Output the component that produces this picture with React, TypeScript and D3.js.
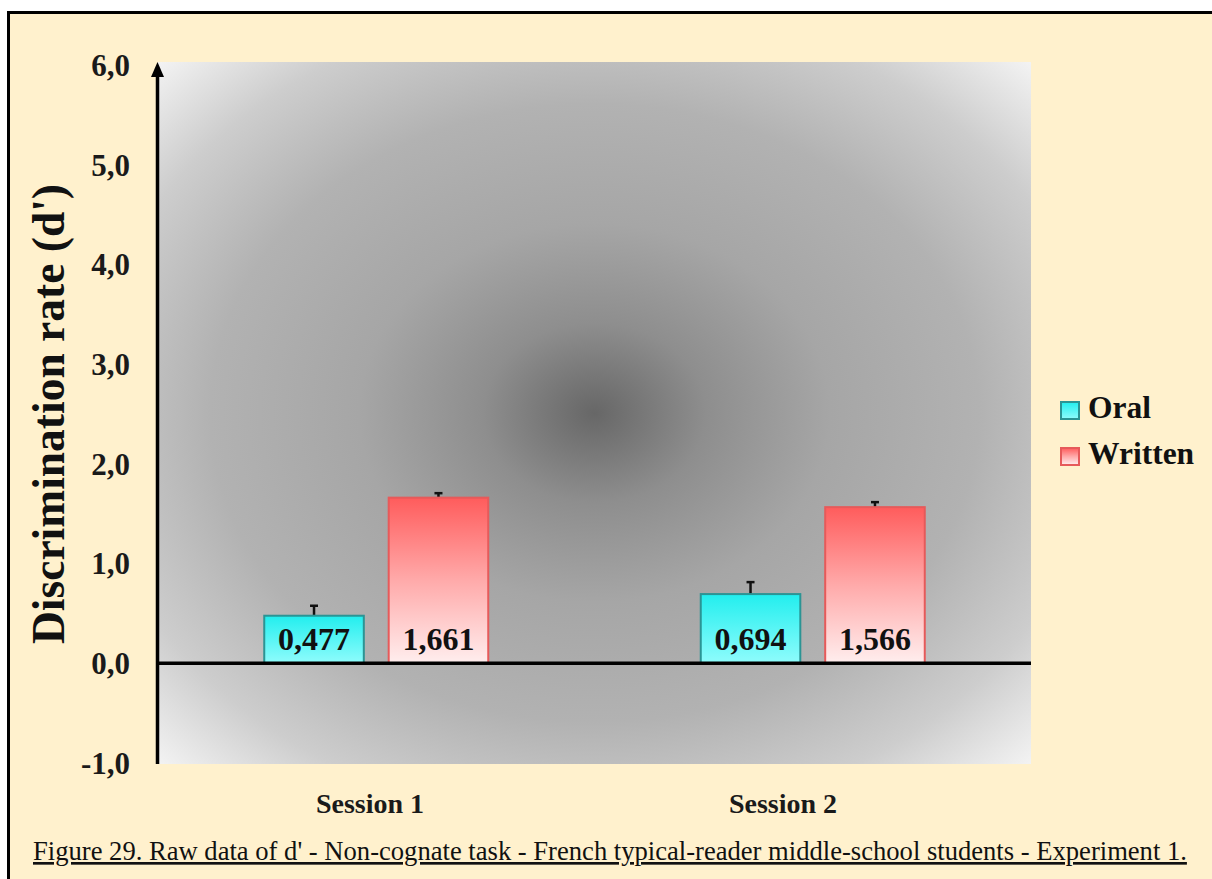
import React from "react";
import * as d3 from "d3";

const sessions = ["Session 1", "Session 2"];
const seriesNames = ["Oral", "Written"];
const oralValues = [0.477, 0.694];
const writtenValues = [1.661, 1.566];
const oralErrors = [0.1, 0.12];
const writtenErrors = [0.045, 0.05];
const yTicks = [-1, 0, 1, 2, 3, 4, 5, 6];
const valueLabels = [["0,477", "0,694"], ["1,661", "1,566"]];
const yTitle = "Discrimination rate (d')";
const caption =
  "Figure 29. Raw data of d' - Non-cognate task - French typical-reader middle-school students - Experiment 1.";

const W = 1212;
const H = 879;
const FONT = "'Liberation Serif', 'Times New Roman', serif";

export default function App() {
  const plot = { left: 158, right: 1031, top: 62, bottom: 764 };
  const y = d3.scaleLinear().domain([-1, 6]).range([763, 65]);
  const x = d3.scaleBand().domain(sessions).range([plot.left, plot.right]);
  const inner = d3.scaleBand().domain(seriesNames).range([-112, 112]).paddingInner(0.2);
  const labelX = d3.scalePoint().domain(sessions).range([370, 783]);
  const fmt = (v: number) => d3.format(".1f")(v).replace(".", ",").replace("\u2212", "-");

  const series = [
    { name: "Oral", values: oralValues, errors: oralErrors, fill: "url(#gOral)", stroke: "#2b9494" },
    { name: "Written", values: writtenValues, errors: writtenErrors, fill: "url(#gWritten)", stroke: "#e65a5a" },
  ];

  return (
    <svg
      width={W}
      height={H}
      style={{ position: "absolute", left: 0, top: 0, display: "block" }}
      fontFamily={FONT}
    >
      <defs>
        <radialGradient id="gBg" cx="0.5" cy="0.5" r="0.71">
          <stop offset="0" stopColor="#676767" />
          <stop offset="0.18" stopColor="#8e8e8e" />
          <stop offset="0.38" stopColor="#a6a6a6" />
          <stop offset="0.62" stopColor="#b2b2b2" />
          <stop offset="0.82" stopColor="#cdcdcd" />
          <stop offset="1" stopColor="#f4f4f4" />
        </radialGradient>
        <linearGradient id="gOral" x1="0" y1="0" x2="0" y2="1">
          <stop offset="0" stopColor="#22eeee" />
          <stop offset="1" stopColor="#8ffcfc" />
        </linearGradient>
        <linearGradient id="gWritten" x1="0" y1="0" x2="0" y2="1">
          <stop offset="0" stopColor="#ff5c5c" />
          <stop offset="0.5" stopColor="#ffaaaa" />
          <stop offset="1" stopColor="#ffeeee" />
        </linearGradient>
      </defs>

      <rect x={0} y={0} width={W} height={H} fill="#ffffff" />
      <rect x={8.5} y={12.5} width={W + 20} height={H + 20} fill="#fff1cd" stroke="#000" strokeWidth={3} />

      {/* plot area */}
      <rect
        x={plot.left}
        y={plot.top}
        width={plot.right - plot.left}
        height={plot.bottom - plot.top}
        fill="url(#gBg)"
      />

      {/* y tick labels */}
      {yTicks.map((t) => (
        <text
          key={t}
          x={130}
          y={y(t)}
          dy="0.35em"
          textAnchor="end"
          fontSize={31}
          fontWeight="bold"
          fill="#1a1a1a"
        >
          {fmt(t)}
        </text>
      ))}

      {/* y title */}
      <text
        transform={`translate(64, ${(y(6) + y(-1)) / 2}) rotate(-90)`}
        textAnchor="middle"
        fontSize={45.5}
        fontWeight="bold"
        fill="#111"
      >
        {yTitle}
      </text>

      {/* bars */}
      {series.map((s, si) =>
        sessions.map((cat, ci) => {
          const cx = (x(cat) as number) + x.bandwidth() / 2;
          const bx = cx + (inner(s.name) as number);
          const bw = inner.bandwidth();
          const v = s.values[ci];
          const top = y(v);
          const errTop = y(v + s.errors[ci]);
          const mid = bx + bw / 2;
          return (
            <g key={s.name + cat}>
              <line x1={mid} x2={mid} y1={top} y2={errTop} stroke="#111" strokeWidth={2.5} />
              <line x1={mid - 4} x2={mid + 4} y1={errTop} y2={errTop} stroke="#111" strokeWidth={2.5} />
              <rect x={bx} y={top} width={bw} height={y(0) - top} fill={s.fill} stroke={s.stroke} strokeWidth={2} />
              <text
                x={mid}
                y={650}
                textAnchor="middle"
                fontSize={32}
                fontWeight="bold"
                fill="#111"
              >
                {valueLabels[si][ci]}
              </text>
            </g>
          );
        })
      )}

      {/* zero line */}
      <line x1={156} x2={plot.right} y1={y(0)} y2={y(0)} stroke="#000" strokeWidth={3.5} />

      {/* y axis with arrow */}
      <line x1={157.5} x2={157.5} y1={y(-1) + 1} y2={74} stroke="#000" strokeWidth={3.5} />
      <path d={`M157.5,${plot.top} L151,77 L164,77 Z`} fill="#000" />

      {/* category labels */}
      {sessions.map((c) => (
        <text key={c} x={labelX(c)} y={813} textAnchor="middle" fontSize={28} fontWeight="bold" fill="#1a1a1a">
          {c}
        </text>
      ))}

      {/* legend */}
      {series.map((s, i) => (
        <g key={s.name} transform={`translate(1061, ${402 + i * 46})`}>
          <rect x={0} y={0} width={18} height={17} fill={s.fill} stroke={s.stroke} strokeWidth={2} />
          <text x={27} y={16} fontSize={31.5} fontWeight="bold" fill="#111">
            {s.name}
          </text>
        </g>
      ))}

      {/* caption */}
      <text x={33} y={860} fontSize={26.6} fill="#111" textDecoration="underline">
        {caption}
      </text>
    </svg>
  );
}
